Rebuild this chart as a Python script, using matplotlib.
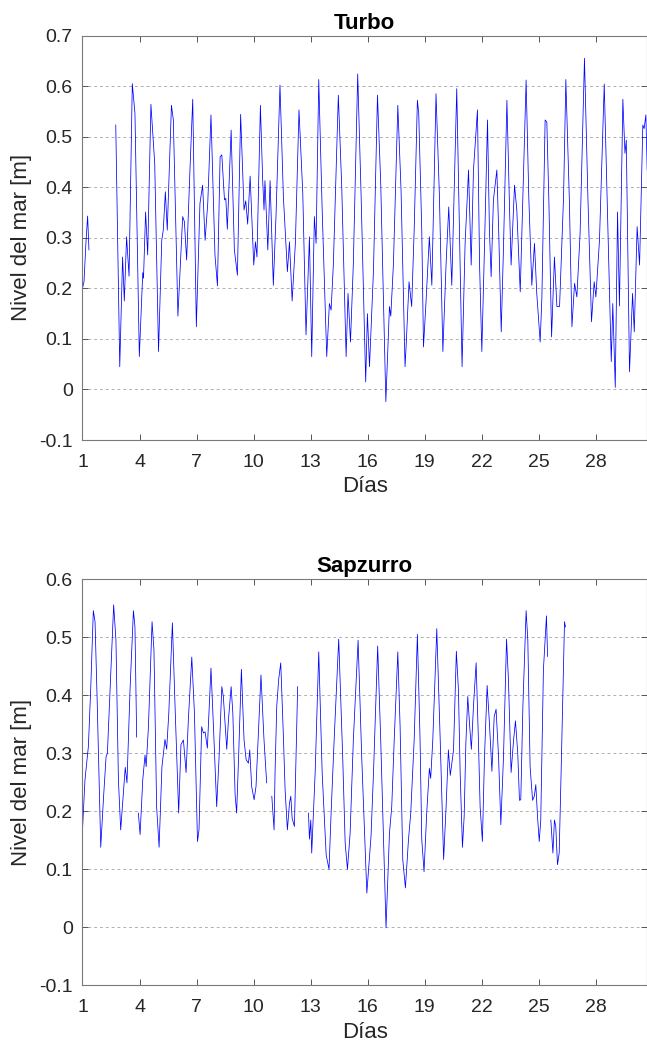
"""
Nivel del mar - Turbo y Sapzurro
"""

import numpy as np
import matplotlib
matplotlib.use("Agg")
import matplotlib.pyplot as plt

plt.rcParams['font.family'] = ['Liberation Sans', 'DejaVu Sans']

# =====================================================
# Datos (dias vs nivel [m])
# =====================================================

dias_turbo = [
    1.00, 1.08, 1.18, 1.27, 1.34, np.nan,
    2.75, 2.96, 3.11, 3.20, 3.32, 3.45, 3.62, 3.76, 3.99, 4.17, 4.21, 4.32, 4.43,
    4.60, 4.80, 5.00, 5.17, 5.25, 5.36, 5.46, 5.68, 5.78, 6.02, 6.27, 6.36, 6.48,
    6.66, 6.80, 6.99, 7.18, 7.32, 7.45, 7.59, 7.76, 7.97, 8.10, 8.24, 8.33, 8.47,
    8.54, 8.62, 8.82, 8.99, 9.15, 9.32, 9.50, 9.59, 9.69, 9.82, 9.92, 10.01, 10.10,
    10.18, 10.36, 10.48, 10.55, 10.60, 10.75, 10.87, 11.04, 11.18, 11.39, 11.57,
    11.78, 11.89, 12.03, 12.20, 12.39, 12.59, 12.76, 12.94, 13.06, 13.20, 13.29,
    13.43, 13.61, 13.85, 13.99, 14.08, 14.20, 14.46, 14.64, 14.87, 14.97, 15.10,
    15.25, 15.48, 15.66, 15.90, 15.99, 16.10, 16.31, 16.52, 16.69, 16.96, 17.15,
    17.22, 17.36, 17.59, 17.76, 17.97, 18.02, 18.18, 18.32, 18.45, 18.62, 18.69,
    18.85, 18.94, 19.06, 19.25, 19.38, 19.60, 19.78, 19.96, 20.13, 20.27, 20.43,
    20.69, 20.83, 20.97, 21.13, 21.31, 21.45, 21.57, 21.78, 21.89, 22.01, 22.15,
    22.31, 22.41, 22.50, 22.62, 22.80, 22.90, 23.03, 23.15, 23.33, 23.47, 23.55,
    23.73, 23.85, 24.03, 24.17, 24.34, 24.48, 24.64, 24.78, 24.90, 25.08, 25.17,
    25.34, 25.43, 25.54, 25.68, 25.83, 25.96, 26.10, 26.31, 26.43, 26.62, 26.75,
    26.89, 27.01, 27.18, 27.41, 27.59, 27.78, 27.92, 28.01, 28.20, 28.45, 28.62,
    28.82, 28.90, 29.03, 29.15, 29.25, 29.43, 29.54, 29.61, 29.78, 29.94, 30.03,
    30.18, 30.31, 30.48, 30.55, 30.64, 30.71,
]

nivel_turbo = [
    0.200, 0.213, 0.290, 0.343, 0.276, np.nan,
    0.523, 0.045, 0.262, 0.175, 0.302, 0.224, 0.605, 0.546, 0.065, 0.231, 0.220, 0.351, 0.266,
    0.564, 0.447, 0.075, 0.295, 0.315, 0.391, 0.315, 0.562, 0.533, 0.145, 0.342, 0.332, 0.256,
    0.440, 0.574, 0.124, 0.368, 0.404, 0.295, 0.368, 0.543, 0.266, 0.205, 0.460, 0.464, 0.375,
    0.378, 0.317, 0.513, 0.276, 0.226, 0.544, 0.355, 0.373, 0.327, 0.422, 0.330, 0.246, 0.292,
    0.262, 0.562, 0.414, 0.355, 0.413, 0.276, 0.413, 0.206, 0.342, 0.602, 0.381,
    0.233, 0.292, 0.175, 0.289, 0.553, 0.388, 0.108, 0.302, 0.065, 0.342, 0.289,
    0.613, 0.355, 0.065, 0.170, 0.157, 0.249, 0.582, 0.400, 0.065, 0.190, 0.094,
    0.249, 0.624, 0.381, 0.015, 0.150, 0.045, 0.236, 0.582, 0.408, -0.024, 0.164,
    0.145, 0.249, 0.562, 0.394, 0.045, 0.080, 0.213, 0.164, 0.315, 0.572, 0.546,
    0.315, 0.084, 0.164, 0.302, 0.206, 0.585, 0.381, 0.075, 0.249, 0.361, 0.206,
    0.595, 0.315, 0.045, 0.289, 0.434, 0.246, 0.434, 0.553, 0.249, 0.075, 0.282,
    0.533, 0.315, 0.223, 0.375, 0.434, 0.309, 0.114, 0.282, 0.572, 0.355, 0.246,
    0.404, 0.355, 0.193, 0.381, 0.612, 0.381, 0.206, 0.289, 0.190, 0.094, 0.183,
    0.533, 0.529, 0.368, 0.104, 0.262, 0.164, 0.164, 0.381, 0.613, 0.368, 0.124,
    0.210, 0.183, 0.309, 0.655, 0.381, 0.134, 0.213, 0.183, 0.295, 0.604, 0.355,
    0.055, 0.170, 0.004, 0.351, 0.165, 0.574, 0.467, 0.493, 0.035, 0.190, 0.114,
    0.322, 0.246, 0.523, 0.516, 0.543, 0.434,
]

dias_sapzurro = [
    1.00, 1.13, 1.31, 1.43, 1.57, 1.66, 1.78, 1.96, 2.10, 2.24, 2.31, 2.45, 2.64,
    2.76, 2.89, 3.01, 3.15, 3.25, 3.34, 3.50, 3.68, 3.76, 3.85, np.nan,
    3.94, 4.03, 4.17, 4.29, 4.35, 4.47, 4.66, 4.76, 4.90, 5.03, 5.18, 5.34, 5.43,
    5.54, 5.73, 5.87, 6.06, 6.18, 6.31, 6.45, 6.57, 6.75, 6.89, 7.05, 7.13, 7.27,
    7.36, 7.45, 7.57, 7.76, 7.89, 8.06, 8.18, 8.33, 8.41, 8.59, 8.68, 8.82, 8.91,
    9.03, 9.11, 9.22, 9.36, 9.50, 9.61, 9.73, 9.80, 9.90, 10.03, 10.13, 10.39,
    10.55, 10.69, np.nan,
    10.96, 11.08, 11.13, 11.22, 11.32, 11.43, 11.57, 11.66, 11.78, 11.89, 11.96,
    12.03, 12.15, 12.32, np.nan,
    12.89, 12.94, 13.01, 13.06, 13.24, 13.43, 13.61, 13.82, 13.97, 14.08, 14.24,
    14.48, 14.69, 14.82, 14.94, 15.08, 15.25, 15.50, 15.69, 15.96, 16.10, 16.18,
    16.31, 16.53, 16.69, 16.97, 17.15, 17.27, 17.40, 17.59, 17.71, 17.85, 17.99,
    18.15, 18.27, 18.45, 18.62, 18.76, 18.85, 18.97, 19.11, 19.25, 19.32, 19.43,
    19.64, 19.82, 20.00, 20.13, 20.25, 20.35, 20.52, 20.67, 20.78, 20.87, 20.99,
    21.08, 21.17, 21.27, 21.36, 21.46, 21.57, 21.71, 21.83, 21.92, 22.04, 22.15,
    22.29, 22.41, 22.54, 22.66, 22.76, 22.89, 23.01, 23.15, 23.31, 23.41, 23.55,
    23.68, 23.78, 23.90, 23.99, 24.06, 24.17, 24.34, 24.43, 24.55, 24.68, 24.77,
    24.85, 24.94, 25.03, 25.11, 25.25, 25.41, 25.47, np.nan,
    25.64, 25.75, 25.83, 25.90, 25.99, 26.08, 26.18, 26.36, 26.41,
]

nivel_sapzurro = [
    0.168, 0.254, 0.312, 0.409, 0.546, 0.527, 0.381, 0.138, 0.220, 0.294, 0.300, 0.409, 0.556,
    0.495, 0.254, 0.168, 0.231, 0.276, 0.249, 0.409, 0.546, 0.518, 0.328, np.nan,
    0.197, 0.160, 0.254, 0.297, 0.277, 0.346, 0.527, 0.478, 0.208, 0.138, 0.277, 0.324, 0.307,
    0.369, 0.525, 0.381, 0.197, 0.315, 0.323, 0.267, 0.358, 0.466, 0.369, 0.148, 0.168, 0.346,
    0.335, 0.337, 0.309, 0.447, 0.346, 0.208, 0.289, 0.415, 0.398, 0.307, 0.358, 0.415, 0.369,
    0.228, 0.197, 0.300, 0.445, 0.323, 0.289, 0.283, 0.306, 0.243, 0.220, 0.243, 0.435,
    0.323, 0.249, np.nan,
    0.226, 0.168, 0.266, 0.381, 0.427, 0.456, 0.329, 0.237, 0.168, 0.214, 0.226,
    0.188, 0.174, 0.415, np.nan,
    0.197, 0.152, 0.185, 0.128, 0.266, 0.475, 0.266, 0.125, 0.100, 0.197, 0.323,
    0.497, 0.294, 0.145, 0.100, 0.162, 0.323, 0.495, 0.294, 0.059, 0.122, 0.157,
    0.266, 0.485, 0.323, -0.001, 0.162, 0.208, 0.323, 0.475, 0.346, 0.117, 0.068,
    0.151, 0.197, 0.323, 0.505, 0.323, 0.151, 0.096, 0.197, 0.274, 0.257, 0.323,
    0.515, 0.323, 0.117, 0.208, 0.306, 0.262, 0.305, 0.476, 0.409, 0.266, 0.138,
    0.191, 0.317, 0.398, 0.352, 0.307, 0.381, 0.456, 0.323, 0.208, 0.148, 0.294,
    0.417, 0.352, 0.269, 0.363, 0.376, 0.294, 0.177, 0.294, 0.497, 0.427, 0.267,
    0.323, 0.356, 0.300, 0.219, 0.220, 0.381, 0.546, 0.495, 0.277, 0.219, 0.226,
    0.246, 0.191, 0.148, 0.185, 0.444, 0.537, 0.467, np.nan,
    0.185, 0.128, 0.185, 0.174, 0.108, 0.128, 0.266, 0.527, 0.518,
]

x_ticks = [1, 4, 7, 10, 13, 16, 19, 22, 25, 28]

# =====================================================
# Grafica
# =====================================================

fig = plt.figure(figsize=(6.47, 10.42), dpi=100)

paneles = [
    ("Turbo", dias_turbo, nivel_turbo, [0.1275, 0.5777, 0.8725, 0.3882], 0.7),
    ("Sapzurro", dias_sapzurro, nivel_sapzurro, [0.1275, 0.0544, 0.8725, 0.3896], 0.6),
]

for titulo, dias, nivel, pos, ymax in paneles:
    ax = fig.add_axes(pos)
    ax.plot(dias, nivel, color='#0000ff', linewidth=0.55)

    y_ticks = np.round(np.arange(-0.1, ymax + 0.01, 0.1), 1)
    ax.set_xlim(1, 30.7)
    ax.set_ylim(-0.1, ymax)
    ax.set_xticks(x_ticks)
    ax.set_yticks(y_ticks)
    ax.set_yticklabels(["%g" % v for v in y_ticks])

    ax.yaxis.grid(True, linestyle=(0, (3, 3)), color='#b0b0b0', linewidth=0.7)
    ax.set_axisbelow(True)

    ax.tick_params(direction='in', top=True, right=True, length=4,
                   width=0.7, color='#555555', labelsize=14,
                   labelcolor='#262626')
    ax.tick_params(axis='x', pad=10)
    ax.tick_params(axis='y', pad=7)
    for s in ax.spines.values():
        s.set_color('#7a7a7a')
        s.set_linewidth(0.8)

    ax.set_title(titulo, fontsize=16, fontweight='bold', pad=5)
    ax.set_xlabel("Días", fontsize=16, color='#262626', labelpad=4)
    ax.set_ylabel("Nivel del mar [m]", fontsize=16, color='#262626', labelpad=5)

fig.savefig("out.png", dpi=100)
